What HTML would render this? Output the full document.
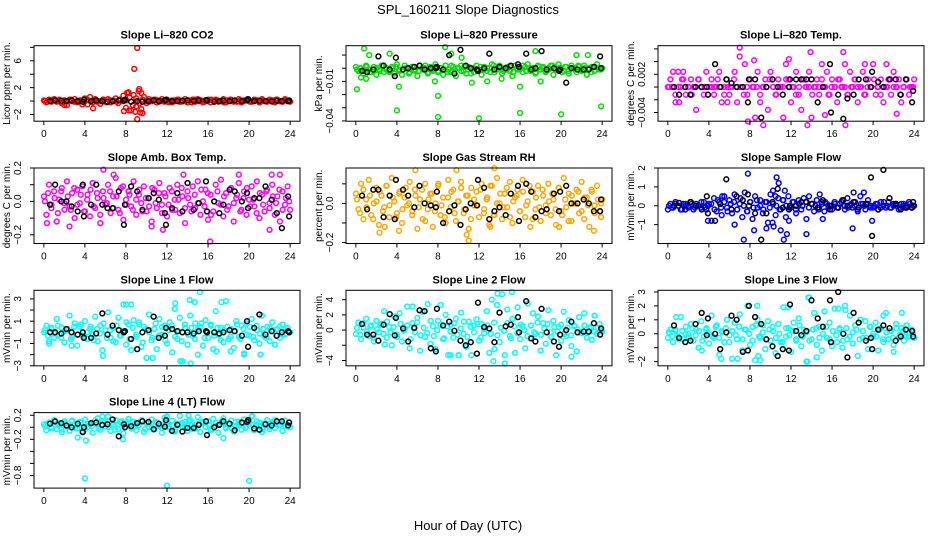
<!DOCTYPE html>
<html><head><meta charset="utf-8"><title>SPL_160211 Slope Diagnostics</title>
<style>
html,body{margin:0;padding:0;background:#fff;}
svg{display:block;font-family:"Liberation Sans",Arial,sans-serif;}
</style></head>
<body>
<svg id="chart" width="936" height="540" viewBox="0 0 936 540">
<text x="468" y="14" text-anchor="middle" font-size="13">SPL_160211  Slope Diagnostics</text>
<text x="468" y="530" text-anchor="middle" font-size="13">Hour of Day (UTC)</text>
</svg>
<script>
// ---- shared data ----
const xTicks = [0,4,8,12,16,20,24];
const blackHours = [0.6,1.1,1.7,2.2,2.7,3.3,3.8,3.9,4.6,5.1,5.7,6.2,6.7,7.3,7.8,7.9,8.5,9.1,9.6,10.2,10.7,11.2,11.8,11.9,12.5,13,13.5,14,14.6,15.1,15.8,15.9,16.6,17.1,17.5,18.1,18.6,19.3,19.8,19.9,20.5,21,21.6,22.2,22.7,23.2,23.8,23.9];

// ---- panel 1: CO2 (ppm/min) ----
const co2Main = [0.1,-0.2,0.2,0,0.3,-0.1,0.2,-0.3,0.1,-0.6,0.2,0,0.3,-0.2,0.1,-0.5,0.4,-0.5,0.6,-0.2,0.3,0,-0.4,0.2,-0.1,0.3,-0.2,0.1,0.4,-0.3,0.2,0.8,-1,1.3,-1.4,0.9,-0.8,1.5,-1.2,0.6,-0.3,0.3,0,0.2,-0.2,0.1,0.3,-0.1,0.2,0,-0.2,0.1,0.2,-0.1,0,0.3,-0.2,0.1,0.2,-0.1,0.3,0,-0.2,0.1,0.2,-0.2,0.1,0.2,-0.1,0,0.3,-0.2,0.1,0.2,-0.1,0,0.3,-0.2,0.1,0.2,0,-0.1,0.2,0.1,-0.2,0.3,0,-0.1,0.2,0.1,-0.2,0.2,0,-0.1,0.3,0,-0.1];
const co2Core = [0,0.1,-0.1,0.2,0,-0.2,0.1,0,0.2,-0.1,0,0.1,-0.2,0.2,0,0.1,-0.1,0,0.2,-0.2,0.1,0,-0.1,0.2,0,0.1,0.5,-0.6,0.4,-0.3,0.2,0,-0.1,0.1,0.2,-0.1,0,0.1,-0.2,0.1,0,0.2,-0.1,0,0.1,-0.2,0.2,0,0.1,-0.1,0,0.2,-0.1,0.1,0,-0.2,0.1,0.2,0,-0.1,0.1,0,0.2,-0.1,0,0.1,-0.2,0.1,0,0.1,-0.1,0.2,0,-0.1,0.1,0];
const co2OutHour = [8.8,9.1,7.8,8.3,8.9,9.1,9.4,9.6,9.3,8.1,4.8,2,9.5];
const co2OutVal = [4.8,7.9,-1.5,-1.4,-1.6,-2.7,-1.7,-1.8,1.8,1.2,-1.1,-0.6,1.2];
const co2Black = [0,0.1,0.05,0,0.1,0,-0.1,0.2,0,0.1,0,-0.1,0,0.1,0.05,0.2,-0.1,0,-0.1,0,0.1,0,0.1,0.2,0,0,0.05,0.1,0,0.1,0.15,0.1,-0.1,0,0.05,0,0.1,0,0.1,0.3,0,0.05,0,-0.05,0.05,0,0,0.1];

// ---- panel 2: pressure (x0.001 kPa/min) ----
const presMain = [1,-2,0,-4,2,-1,-3,1,-5,-1,2,-3,0,-2,1,-4,3,-1,-5,2,0,-3,1,-2,-6,2,-1,0,-4,1,-2,3,-3,0,-5,2,-1,-3,1,-6,0,2,-2,-4,1,0,-3,2,-1,-5,1,-2,0,3,-3,-1,2,-4,0,1,-2,-6,2,-1,0,-3,1,3,-2,0,-4,2,-1,1,-3,0,2,-5,-1,3,0,-2,1,-4,2,0,-3,1,-1,2,-5,0,1,-2,3,-1,0];
const presCore = [-1,0,-2,1,-3,-1,0,-2,2,-1,-3,0,1,-2,-1,0,-4,1,-1,-2,0,2,-3,-1,1,-2,0,-1,-3,2,-1,0,-2,1,-1,-4,0,-2,1,-1,0,-3,2,-1,0,-2,-1,1,-3,0,-1,2,-2,0,-1,-3,1,0,-2,-1,2,-1,0,-3,1,-2,0,-1,2,-2,0,-1,-3,1,0,-1];
const presOutHour = [0.1,0.5,0.8,1.3,3.3,4,4.2,8,8,8.7,9.3,10.3,12,11.3,16,16,17.5,20,23.9,21.5,22.6,18,1,7.7,12.8,14.2];
const presOutVal = [-16,-7,15,10,11,-32,-14,-21,-37,16,11,8,-38,-11,-14,-34,13,-35,-29,10,10,-10,-8,-10,-10,-8];
const presBlack = [-2,-3,-1,9,2,-1,-6,8,-1,0,1,2,-1,0,0,1,-1,10,-4,14,2,0,-1,-2,0,11,-1,1,0,2,3,1,11,-1,0,13,-1,0,-2,-1,-11,0,-1,-1,-1,1,9,0];

// ---- panel 3: Li-820 temp (x0.001 C/min) ----
const tempMain = [0,1.2,0,-2.4,2.4,0,1.2,-1.2,0,1.2,0,-3.6,1.2,0,-1.2,2.4,0,1.2,-1.2,0,2.4,-2.4,0,1.2,-1.2,0,2.4,-2.4,4.8,0,3.6,-1.2,1.2,0,-4.8,2.4,-2.4,0,1.2,-3.6,2.4,0,-1.2,1.2,0,-4.8,3.6,1.2,-2.4,0,2.4,-1.2,-3.6,1.2,0,2.4,-4.8,0,1.2,-1.2,3.6,0,2.4,-1.2,1.2,0,-2.4,1.2,0,3.6,-1.2,2.4,0,1.2,-2.4,0,2.4,-1.2,1.2,0,3.6,-1.2,0,1.2,-2.4,0,1.2,-1.2,2.4,0,1.2,-2.4,0,1.2,-1.2,0,1.2];
const tempCore = [0,0,-1.2,0,1.2,0,0,-1.2,0,1.2,0,0,-1.2,0,0,1.2,0,-1.2,0,0,1.2,0,0,-1.2,0,1.2,0,0,-1.2,0,0,1.2,0,-1.2,0,0,1.2,0,0,-1.2,0,1.2,0,0,-1.2,0,0,1.2,0,-1.2,0,0,1.2,0,0,-1.2,0,1.2,0,0,-1.2,0,0,1.2,0,-1.2,0,0,1.2,0,0,-1.2,0,1.2,0,0];
const tempOutHour = [7,8.4,13.9,17.1,11.8,7.8,9.3,13.6,17.3,15.3,22.3,1.1,5.8,19.2,21.3,0.5,1.5];
const tempOutVal = [6.2,4.2,5.5,5.5,4.4,-5.4,-6,-6,-6,-4.4,-4.2,-2.4,-2.4,3.6,3.6,2.4,2.4];
const tempBlack = [0,-1.2,0,-1.2,0,0,0,-1.2,3.6,0,1.2,0.6,0,0,-2.4,1.2,1.2,-4.8,0,1.2,0,-1.2,0,1.2,1.2,1.2,1.2,1.2,-2.4,0,3.6,-4,-1.2,-5,-1.8,-1.2,1.2,1.2,0,2.4,0.8,0,1.2,1.2,-1.2,1.2,-2.4,-0.6];

// ---- panel 4: amb box temp (x0.01 C/min) ----
const ambMain = [3,-8,10,-2,6,-12,1,8,-5,12,-3,5,-10,7,-1,9,-6,4,-9,11,-4,2,-13,6,-2,10,-7,3,14,-5,8,-11,1,6,-3,12,-8,4,-1,9,-6,2,-12,7,-4,11,-2,5,-9,8,-5,1,10,-7,3,-13,6,-2,9,-4,12,-8,0,7,-11,4,-6,10,-1,13,-9,5,-3,8,-12,2,11,-5,6,-8,1,9,-3,12,-10,4,-6,7,-1,10,-8,3,-12,6,-2,9,-5];
const ambCore = [0,5,-4,2,-7,6,-1,3,-5,8,-2,4,-6,1,7,-3,5,-8,2,-1,6,-4,3,-7,9,-2,4,-5,1,7,-6,2,-3,8,-1,5,-7,3,-2,6,-5,1,8,-4,2,-6,4,-1,7,-3,5,-8,0,6,-2,3,-5,7,-1,4,-6,2,8,-3,1,-7,5,-2,6,-4,3,-1,7,-5,2,0];
const ambOutHour = [5.8,16.2,2.5,11.6,22,6.8,0.3,22.2,23,19,13.6,10.5];
const ambOutVal = [19,-24,-15,-17,-17,16,-13,16,16,16,16,-15];
const ambBlack = [-2,10,0,0,-3,-6,10,-9,-2,10,-2,-4,-4,6,-14,-2,9,6,-5,2,5,1,-7,-14,-4,5,-6,11,-5,-1,12,-6,0,-7,-2,7,6,0,5,-4,2,2,9,1,-7,-16,3,-9];

// ---- panel 5: gas stream RH (x0.01 %/min) ----
const rhMain = [5,-3,10,-8,2,12,-6,0,8,-11,4,-2,9,-7,13,1,-5,6,-10,3,-1,11,-4,7,-13,2,-8,10,-3,5,-12,0,9,-6,3,-10,12,-2,7,-9,1,11,-5,4,-13,8,-1,6,-7,10,-3,2,-11,9,-6,13,0,-8,5,-2,11,-10,3,7,-4,12,-7,1,-12,6,-3,9,-9,4,-1,10,-6,2,-11,8,-4,13,-2,5,-9,0,7,-5,11,-8,3,-12,6,-1,9,-4,2];
const rhCore = [2,-5,7,-2,4,-8,1,6,-4,9,-1,3,-7,5,-3,8,0,-6,4,-2,7,-9,2,5,-4,10,-1,-7,3,6,-5,1,8,-3,4,-8,2,-1,7,-5,3,9,-6,0,5,-2,8,-7,1,4,-4,6,-1,9,-8,3,-2,7,-5,1,5,-3,8,-6,2,-9,4,0,6,-4,3,-1,7,-5,2,0];
const rhOutHour = [2.3,2.8,4.2,5.8,9.8,10.8,11,13.5,23.2,23.9,13.1,19.8];
const rhOutVal = [-15,-12,-14,17,17,-16,-19,18,-14,-7,-12,-12];
const rhBlack = [4,-3,7,7,-7,4,-8,12,7,4,-2,9,0,-1,-2,6,-10,-4,-1,-11,-3,0,-1,12,8,-8,-4,-2,-6,5,9,-9,10,6,-7,-4,-3,5,-4,6,9,0,0,2,0,-4,-4,2];

// ---- panel 6: sample flow ----
const sampMain = [-0.2,0.1,-0.1,0.2,0,-0.2,0.1,0,-0.1,0.2,-0.2,0.1,0,-0.1,0.2,-0.2,0.1,-0.8,0.4,-0.3,0.2,-0.5,0.5,-0.1,0.3,-0.4,0.6,-0.2,0.1,-0.6,0.7,-0.3,0.2,-0.7,0.5,-0.1,0.3,-0.4,0.2,-0.9,0.6,0.8,-0.5,0.4,-0.2,0.3,-0.6,0.5,-0.1,0.2,-0.4,0.3,-0.2,0.4,-0.7,0.5,0.1,-0.3,0.3,-0.1,0.2,-0.3,0.1,0,-0.2,0.2,-0.1,0.1,0.3,-0.2,0.4,0,-0.1,0.2,-0.3,0.5,0.1,-0.2,0.3,0,-0.1,0.1,-0.2,0.2,0,-0.1,0.2,-0.1,0,0.1,-0.2,0.1,0,-0.1,0.2,-0.1,0];
const sampCore = [0,-0.1,0.1,0,-0.2,0.1,0,0.1,-0.1,0,0.2,-0.1,0,0.1,-0.2,0.3,-0.1,0.2,-0.3,0.1,0.2,-0.2,0.4,0,-0.3,0.2,-0.1,0.3,0,-0.2,0.2,-0.1,0.1,0,-0.2,0.3,0,-0.1,0.2,-0.2,0.1,0,0.2,-0.1,0.1,0,-0.2,0.1,0.2,-0.1,0,0.1,-0.1,0.2,0,-0.1,0.1,0,-0.2,0.1,0,0.1,-0.1,0,0.1,-0.1,0.2,0,-0.1,0.1,0,-0.1,0.1,0,0.1,0];
const sampOutHour = [3.9,5.3,6.5,7.4,7.8,8.4,9.6,10.2,10.3,10.6,10.8,11,11.3,11.6,11.4,13.5,14.8,15.1,18,18.1,19.1,19.9,10.5,11.8];
const sampOutVal = [-0.8,0.5,-1,-1.8,1.7,-1.3,-1.2,-0.9,-1.1,1.5,1.2,-1.3,-1.8,-1.5,0.8,-1.5,0.6,-0.7,-1.2,0.7,0.7,-0.8,0.5,-0.8];
const sampBlack = [0,0.15,-0.2,0.2,0,-0.2,0.5,-0.4,-0.8,0.1,1.4,-0.2,0.5,0.3,0.6,0,-0.4,-1.8,-0.4,0.2,0.9,-0.1,-0.2,0,0,0.2,0.2,0.1,-0.1,0.3,-0.2,0,-0.1,0.3,0,0.2,-0.1,0.1,1.5,-1.6,-0.2,1.9,0.4,0.1,-0.2,-0.1,-0.1,0.2];

// ---- panel 7: line 1 flow ----
const l1Main = [0,0.6,-0.8,0.3,-0.5,1.2,-0.2,0.4,-0.9,0.2,1.5,-0.4,0.8,-1.2,0.5,-0.3,1,-0.6,0.3,-0.2,1.4,-0.8,0.6,-2.1,0.2,1.8,-0.5,0.4,-0.9,1.3,-0.3,2.5,-1.1,0.7,-1.6,1.1,-0.4,0.9,-1.3,0.5,-2.3,1.6,-0.7,0.3,-1.5,1.2,-0.2,0.6,-1,0.9,-1.8,2.1,-0.6,1.3,-2.6,0.4,-1.1,1.5,-0.3,0.8,-2,0.5,-1.2,1.1,-0.5,0.7,-1.5,1.9,-0.2,0.4,-0.9,2.8,-0.6,0.3,-1.4,1,-0.4,0.6,-2,0.8,-0.3,1.2,-0.7,0.2,-1,1.5,-0.4,0.5,-0.8,0.9,-1.1,0.3,-0.5,0.7,-0.2,0.4,0];
const l1Core = [0.2,-0.3,0.4,-0.1,0.6,-0.5,0.1,0.3,-0.6,0.5,-0.2,0.7,-0.4,0,0.5,-0.7,0.3,-0.1,0.8,-0.5,0.2,-0.8,0.6,-0.3,0.1,0.9,-0.6,0.4,-0.2,0.7,-0.9,0.3,0,-0.5,0.8,-0.3,0.5,-0.7,0.2,0.6,-0.4,0.1,-0.8,0.7,-0.2,0.4,-0.6,0.3,0.8,-0.5,0,0.6,-0.3,0.4,-0.7,0.2,0.5,-0.4,0.1,0.7,-0.6,0.3,-0.2,0.5,-0.4,0.6,-0.1,0.3,-0.5,0.4,0.2,-0.3,0.5,-0.2,0.3,0];
const l1OutHour = [15.2,14.2,14.7,12.8,17.3,8,8.5,14.3,13.3,10.6,5.7,21.1,19.5,18.2,16.8,0.5,2.7];
const l1OutVal = [3.6,2.9,2.7,2.6,2.7,2.5,2.5,-2.8,-2.6,-2.3,-1.6,-2,-1.9,-1.7,-1.7,-1,-1.2];
const l1Black = [0,0,-0.1,0.3,0,-0.2,0,-0.5,-0.5,-0.1,1.7,-0.2,0.6,0.2,0,0.1,-0.6,-1.5,0,0.2,1.4,-0.5,-0.3,0.4,0.3,0.1,0,0,-0.1,0.1,0.1,0,0,-0.1,0,0.2,0.1,-0.3,1,-1.3,0.4,1.6,-0.2,0.1,-0.3,0,0.1,0];

// ---- panel 8: line 2 flow ----
const l2Main = [-0.5,1,-1.2,0.3,1.5,-0.8,0.6,-1.5,1.2,-0.3,0.8,2.5,-1,0.4,-2,1.8,-0.6,2.2,-1.5,0.2,3.1,-2.4,0.9,-0.3,1.6,-2.7,2.4,-0.9,3.4,-1.8,0.5,-2.5,1.2,3.3,-1.2,2,-3.3,0.7,-1,1.5,-3.3,2.3,-0.5,-2.2,1.1,-3.3,0.6,1.4,-1.4,0.8,-0.4,2.5,-3,4,-2.5,3.3,-1.6,4.7,-3.3,2.7,-0.8,1.5,-3,3,-1.2,0.5,-2.4,3.5,-1.1,2.2,-0.5,1.8,-2.7,0.9,-1.8,2.6,-0.3,1.2,-3.3,0.4,-1.4,2.4,-0.8,1.3,-2.1,0.6,-2.8,1.7,-0.4,2.2,-1,0.3,-1.3,1.9,-0.5,0.8,-0.2];
const l2Core = [0.3,-0.6,0.9,-0.2,0.5,-1,0.1,0.7,-0.5,1.1,-0.3,0.4,-0.9,0.8,-0.1,0.6,-1.2,0.2,1,-0.7,0.3,-0.4,1.2,-0.8,0,0.7,-1.1,0.5,-0.2,0.9,-0.6,0.2,1.1,-0.9,0.4,-0.3,0.8,-1,0.1,0.6,-0.5,1,-0.7,0.3,-0.1,0.9,-1.1,0.5,-0.4,0.7,0,-0.8,0.6,-0.3,1,-0.6,0.2,0.8,-0.9,0.4,-0.2,0.7,-0.5,0.3,-0.7,0.5,0.1,-0.4,0.6,-0.3,0.4,-0.2,0.3,0];
const l2OutHour = [15.2,13.8,14.5,13.4,21,9.2,10,5.5,2.8];
const l2OutVal = [5,4.8,-4.4,-4.1,-3.5,-3.3,-3.3,3.1,-1.9];
const l2Black = [0.8,-0.6,-0.6,-1.4,0.7,2.1,-0.7,1.6,0.2,-1.5,0.3,2.6,2.5,-2.4,-2.8,2.8,0.6,1.1,-0.1,-1.4,-2,-1.6,-3.1,3.6,0.4,0.2,-1.6,2.3,0.5,0.7,1.7,-0.3,3.8,-1.1,-1.5,2.8,-0.3,-1.5,-2.2,-0.6,0,1.1,-0.3,-0.2,-0.2,0.9,-0.6,0.2];

// ---- panel 9: line 3 flow ----
const l3Main = [-0.3,0.3,-0.6,0.2,-0.2,1.2,-0.4,0.5,0,0.7,-0.5,0.3,-1,0.9,-0.2,0.4,-0.7,1.3,-0.3,0.6,-1.5,0.2,-0.6,1,-0.1,-1.8,0.8,-0.4,1.4,-1.2,0.3,2,-0.8,0.5,-1.9,1,-0.3,0.6,-1.1,0.9,-0.5,0.2,-1.4,0.7,-0.6,1.9,-0.2,0.4,-1.3,0.8,-0.5,1.1,-0.9,0.3,-2,2.6,-0.4,1.5,-0.8,0.5,-1.2,1.6,-0.3,0.8,-0.9,1.8,-0.6,0.4,-1,2,-0.4,1.3,-0.7,0.6,-1.6,1,-0.3,0.9,-1.1,0.5,-0.2,0.8,-1.2,0.4,-0.6,1.5,-0.4,0.2,-0.8,0.7,-0.3,0.4,-0.5,0.6,-0.2,0.3,-0.3];
const l3Core = [0.1,-0.2,0.3,-0.4,0.2,0,-0.3,0.4,-0.1,0.2,-0.5,0.3,0,-0.2,0.5,-0.3,0.1,0.4,-0.6,0.2,-0.1,0.5,-0.4,0.3,0,-0.5,0.6,-0.2,0.1,-0.4,0.3,0.5,-0.3,0,-0.6,0.4,-0.1,0.2,-0.4,0.6,-0.2,0.1,-0.5,0.3,0.4,-0.3,0,0.5,-0.4,0.2,-0.1,0.3,-0.5,0.4,-0.2,0.1,0.3,-0.4,0.2,-0.3,0.5,0,-0.2,0.3,-0.4,0.1,0.2,-0.3,0.4,-0.1,0.2,-0.2,0.1,0];
const l3OutHour = [5.2,6.8,8.7,8.8,9,11.7,13.6,13.7,16.6,17.3,0.8,3.3,21,22.8,22,14.5];
const l3OutVal = [-1.8,-1.8,2,-1.6,-1.9,1.9,-2,2.6,1.8,1.7,1.2,-1.2,1.3,1.5,-1.3,-1.7];
const l3Black = [0.6,-0.3,-0.6,-0.5,0.7,1.5,-0.1,1.1,0,-1.1,0.1,1.3,1,-1.3,-1.2,2,1.2,0.7,-0.4,-0.9,-1.6,-1.1,-1.2,2.1,0.2,-0.1,0.2,2.4,1.1,0.5,2.4,-0.6,3,0,-1.7,1.5,0.8,-0.5,-0.3,-1.1,0.3,0.6,0.4,-0.5,-0.2,0.3,0.2,-0.2];

// ---- panel 10: line 4 (LT) flow (x0.01) ----
const l4Main = [5,-5,8,0,12,-3,6,-8,10,2,-6,11,4,-2,9,-7,13,0,5,-9,7,15,-4,10,1,18,-6,4,12,-3,8,-10,6,14,-1,9,-5,3,11,-8,7,0,13,-4,8,2,-9,16,5,-2,11,-7,6,19,0,9,-6,12,-3,4,17,-8,7,1,10,-5,14,2,-9,8,15,-2,5,11,-7,3,9,-4,13,0,6,18,-5,10,2,-8,7,12,-3,6,-1,9,4,-6,11,3,0];
const l4Core = [2,6,-2,9,4,-4,7,1,10,-1,5,8,-3,6,2,11,-2,4,9,0,7,-4,5,10,1,8,-2,6,3,12,-3,7,0,9,4,-1,8,2,11,-4,5,7,0,10,3,-2,6,9,1,4,-3,8,5,11,0,6,-2,9,3,7,-1,10,4,2,8,-3,6,1,9,5,3,7,2,4];
const l4OutHour = [4.1,4,12,20,5.7,12,14.1,20.3,22.5,7.7,17.5,3.3];
const l4OutVal = [-22,-85,-97,-89,18,18,20,19,12,-20,-18,-17];
const l4Black = [6,10,7,3,0,6,-8,0,7,8,4,5,13,-15,5,0,2,7,10,9,-3,6,1,12,-6,4,-7,-1,-1,4,10,-13,0,4,10,6,-5,8,9,12,-2,-4,5,3,10,10,3,8];

// ---- panel configuration (layout, not data) ----
const panels = [
 {name:'co2',title:'Slope Li\u2013820 CO2',ylab:'Licor ppm per min.',col:0,row:0,lo:-3,hi:8.25,ticks:[-2,0,2,4,6,8],labs:['\u22122','','2','','6',''],color:'#ff0000',scale:1,main:co2Main,core:co2Core,oh:co2OutHour,ov:co2OutVal,blk:co2Black},
 {name:'pressure',title:'Slope Li\u2013820 Pressure',ylab:'kPa per min.',col:1,row:0,lo:-0.0402,hi:0.0171,ticks:[-0.04,-0.03,-0.02,-0.01,0,0.01],labs:['\u22120.04','','','\u22120.01','',''],color:'#00e000',scale:0.001,main:presMain,core:presCore,oh:presOutHour,ov:presOutVal,blk:presBlack},
 {name:'licor-temp',title:'Slope Li\u2013820 Temp.',ylab:'degrees C per min.',col:2,row:0,lo:-0.00537,hi:0.0065,ticks:[-0.004,-0.002,0,0.002,0.004,0.006],labs:['\u22120.004','','','0.002','',''],color:'#ff00ff',scale:0.001,main:tempMain,core:tempCore,oh:tempOutHour,ov:tempOutVal,blk:tempBlack},
 {name:'amb-box-temp',title:'Slope Amb. Box Temp.',ylab:'degrees C per min.',col:0,row:1,lo:-0.252,hi:0.2,ticks:[-0.2,-0.1,0,0.1,0.2],labs:['\u22120.2','','0.0','','0.2'],color:'#ff00ff',scale:0.01,main:ambMain,core:ambCore,oh:ambOutHour,ov:ambOutVal,blk:ambBlack},
 {name:'gas-stream-rh',title:'Slope Gas Stream RH',ylab:'percent per min.',col:1,row:1,lo:-0.205,hi:0.181,ticks:[-0.2,-0.1,0,0.1],labs:['\u22120.2','','0.0',''],color:'#ffa500',scale:0.01,main:rhMain,core:rhCore,oh:rhOutHour,ov:rhOutVal,blk:rhBlack},
 {name:'sample-flow',title:'Slope Sample Flow',ylab:'mVmin per min.',col:2,row:1,lo:-2,hi:2,ticks:[-1,0,1,2],labs:['\u22121','0','1','2'],color:'#0000ff',scale:1,main:sampMain,core:sampCore,oh:sampOutHour,ov:sampOutVal,blk:sampBlack},
 {name:'line1-flow',title:'Slope Line 1 Flow',ylab:'mVmin per min.',col:0,row:2,lo:-3,hi:3.77,ticks:[-3,-2,-1,0,1,2,3],labs:['\u22123','','\u22121','','1','','3'],color:'#00ffff',scale:1,main:l1Main,core:l1Core,oh:l1OutHour,ov:l1OutVal,blk:l1Black},
 {name:'line2-flow',title:'Slope Line 2 Flow',ylab:'mVmin per min.',col:1,row:2,lo:-4.7,hi:5.23,ticks:[-4,-2,0,2,4],labs:['\u22124','','0','2','4'],color:'#00ffff',scale:1,main:l2Main,core:l2Core,oh:l2OutHour,ov:l2OutVal,blk:l2Black},
 {name:'line3-flow',title:'Slope Line 3 Flow',ylab:'mVmin per min.',col:2,row:2,lo:-2.3,hi:3.12,ticks:[-2,-1,0,1,2,3],labs:['\u22122','','0','1','2','3'],color:'#00ffff',scale:1,main:l3Main,core:l3Core,oh:l3OutHour,ov:l3OutVal,blk:l3Black},
 {name:'line4-flow',title:'Slope Line 4 (LT) Flow',ylab:'mVmin per min.',col:0,row:3,lo:-1.01,hi:0.244,ticks:[-0.8,-0.6,-0.4,-0.2,0,0.2],labs:['\u22120.8','','','\u22120.2','','0.2'],color:'#00ffff',scale:0.01,main:l4Main,core:l4Core,oh:l4OutHour,ov:l4OutVal,blk:l4Black}
];

const NS='http://www.w3.org/2000/svg';
const svg=document.getElementById('chart');
function mk(tag,attrs,parent){const e=document.createElementNS(NS,tag);for(const k in attrs)e.setAttribute(k,attrs[k]);(parent||svg).appendChild(e);return e;}

panels.forEach(p=>{
  const L=34+312*p.col, T=45.7+122.3*p.row, W=266, H=75.5;
  const xs=h=>L+(h+0.96)/25.92*W;
  const ys=v=>T+H-(v-p.lo)/(p.hi-p.lo)*H;
  const g=mk('g',{});
  
  
  const t=mk('text',{x:L+W/2,y:T-7,'text-anchor':'middle','font-size':'11','font-weight':'bold'},g);
  t.textContent=p.title;
  
  
  const yl=mk('text',{transform:'translate('+(L-24)+','+(T+H/2)+') rotate(-90)','text-anchor':'middle','font-size':'10'},g);
  yl.textContent=p.ylab;
  
  
  const pts=mk('g',{},g);
  
  
  const dot=(h,v,c)=>{const cc=mk('circle',{cx:xs(h).toFixed(1),cy:ys(v).toFixed(1),r:2.4,fill:'none',stroke:c,'stroke-width':1.5},pts);
    
    };
  const n=p.main.length;
  p.main.forEach((v,i)=>dot(i*24/(n-1),v*p.scale,p.color));
  const m=p.core.length;
  p.core.forEach((v,i)=>dot(0.1+i*23.8/(m-1),v*p.scale,p.color));
  p.oh.forEach((h,i)=>dot(h,p.ov[i]*p.scale,p.color));
  p.blk.forEach((v,i)=>dot(blackHours[i],v*p.scale,'#000'));
  const box=mk('rect',{x:L,y:T,width:W,height:H,fill:'none',stroke:'#000','stroke-width':1},g);
  
  
  xTicks.forEach(h=>{
    const tk=mk('line',{x1:xs(h),x2:xs(h),y1:T+H,y2:T+H+4,stroke:'#000'},g);
    
    
    const tl=mk('text',{x:xs(h),y:T+H+16,'text-anchor':'middle','font-size':'10'},g);
    tl.textContent=String(h);
    
    
  });
  p.ticks.forEach((v,i)=>{
    const y=ys(v);
    const tk=mk('line',{x1:L-4,x2:L,y1:y,y2:y,stroke:'#000'},g);
    
    
    if(p.labs[i]){
      const tl=mk('text',{transform:'translate('+(L-13)+','+y+') rotate(-90)','text-anchor':'middle','font-size':'10'},g);
      tl.textContent=p.labs[i];
      
      
    }
  });
});
</script>
</body></html>
